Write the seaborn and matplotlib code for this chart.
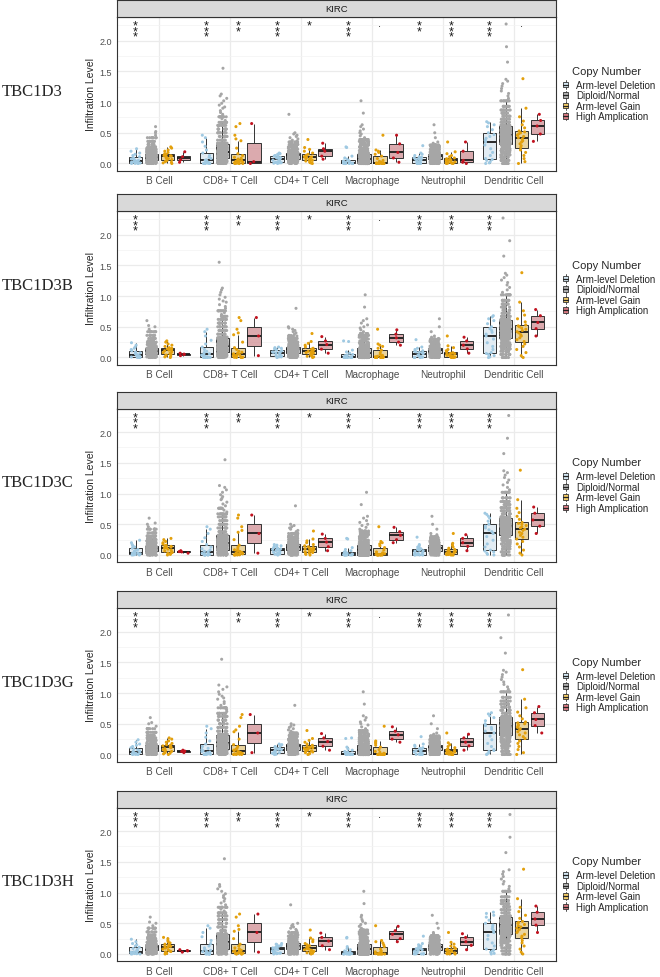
import numpy as np
import pandas as pd
import matplotlib
matplotlib.use("Agg")
import matplotlib.pyplot as plt
from matplotlib.ticker import MultipleLocator
from matplotlib.patches import Patch, Rectangle
from matplotlib.lines import Line2D
from matplotlib.legend_handler import HandlerBase
import seaborn as sns

cells = ["B Cell", "CD8+ T Cell", "CD4+ T Cell", "Macrophage", "Neutrophil", "Dendritic Cell"]
groups = ["Arm-level Deletion", "Diploid/Normal", "Arm-level Gain", "High Amplication"]
genes = ["TBC1D3", "TBC1D3B", "TBC1D3C", "TBC1D3G", "TBC1D3H"]

# infiltration level per sample, one list per cell type (same order as cells)
deletion = [
    [0.0, 0.0, 0.003, 0.005, 0.008, 0.01, 0.015, 0.02, 0.028, 0.034, 0.04, 0.05, 0.06, 0.075, 0.09, 0.11, 0.13, 0.15, 0.17, 0.2, 0.24],
    [0.0, 0.0, 0.0, 0.0, 0.0, 0.002, 0.01, 0.02, 0.03, 0.04, 0.05, 0.06, 0.08, 0.1, 0.13, 0.17, 0.22, 0.28, 0.35, 0.42, 0.46],
    [0.0, 0.005, 0.01, 0.012, 0.016, 0.02, 0.03, 0.045, 0.055, 0.07, 0.08, 0.085, 0.09, 0.1, 0.11, 0.12, 0.13, 0.14, 0.15, 0.16, 0.17],
    [0.0, 0.0, 0.0, 0.0, 0.0, 0.0, 0.002, 0.004, 0.006, 0.008, 0.01, 0.015, 0.02, 0.03, 0.04, 0.05, 0.07, 0.09, 0.12, 0.26, 0.27],
    [0.0, 0.0, 0.0, 0.002, 0.004, 0.006, 0.015, 0.025, 0.035, 0.045, 0.062, 0.07, 0.078, 0.085, 0.092, 0.1, 0.11, 0.13, 0.15, 0.17, 0.29],
    [0.0, 0.01, 0.03, 0.05, 0.065, 0.08, 0.13, 0.18, 0.24, 0.3, 0.35, 0.38, 0.41, 0.44, 0.47, 0.5, 0.55, 0.6, 0.63, 0.66, 0.68],
]

# diploid: dense core (each value stands for 10 samples) + sparse upper tail
diploid_core = [
    [0.0, 0.01, 0.018, 0.026, 0.033, 0.04, 0.046, 0.052, 0.057, 0.061, 0.065, 0.07, 0.075, 0.08, 0.085, 0.09, 0.094, 0.098, 0.102, 0.106,
     0.11, 0.114, 0.118, 0.122, 0.126, 0.13, 0.134, 0.138, 0.142, 0.146, 0.15, 0.17, 0.19, 0.21, 0.23, 0.25, 0.27, 0.31, 0.36, 0.42],
    [0.0, 0.01, 0.02, 0.03, 0.042, 0.053, 0.062, 0.07, 0.078, 0.085, 0.09, 0.1, 0.112, 0.124, 0.135, 0.146, 0.157, 0.168, 0.179, 0.19,
     0.2, 0.213, 0.226, 0.24, 0.254, 0.268, 0.282, 0.296, 0.31, 0.32, 0.33, 0.38, 0.44, 0.5, 0.56, 0.62, 0.67, 0.76],
    [0.0, 0.012, 0.024, 0.034, 0.043, 0.052, 0.06, 0.066, 0.071, 0.076, 0.08, 0.087, 0.094, 0.1, 0.106, 0.112, 0.118, 0.124, 0.13, 0.135,
     0.14, 0.144, 0.148, 0.152, 0.156, 0.16, 0.164, 0.168, 0.171, 0.173, 0.175, 0.19, 0.21, 0.23, 0.25, 0.27, 0.29, 0.31, 0.35],
    [0.0, 0.0, 0.0, 0.0, 0.0, 0.0, 0.0, 0.0, 0.0, 0.0, 0.004, 0.01, 0.018, 0.026, 0.034, 0.042, 0.05, 0.058, 0.066, 0.073,
     0.08, 0.088, 0.096, 0.104, 0.112, 0.12, 0.128, 0.136, 0.145, 0.153, 0.162, 0.18, 0.21, 0.24, 0.27, 0.3, 0.33, 0.36, 0.39],
    [0.0, 0.008, 0.016, 0.024, 0.032, 0.04, 0.047, 0.053, 0.058, 0.062, 0.066, 0.072, 0.078, 0.084, 0.09, 0.096, 0.101, 0.106, 0.111, 0.116,
     0.12, 0.124, 0.128, 0.132, 0.136, 0.14, 0.144, 0.148, 0.152, 0.155, 0.158, 0.17, 0.185, 0.2, 0.215, 0.23, 0.245, 0.26, 0.28, 0.3],
    [0.0, 0.05, 0.1, 0.14, 0.18, 0.21, 0.24, 0.27, 0.3, 0.32, 0.34, 0.355, 0.37, 0.385, 0.4, 0.415, 0.43, 0.445, 0.46, 0.47,
     0.48, 0.495, 0.51, 0.525, 0.54, 0.555, 0.57, 0.585, 0.6, 0.61, 0.62, 0.67, 0.72, 0.77, 0.82, 0.87, 0.93, 1.02],
]
diploid_tail = [
    [0.46, 0.5, 0.52, 0.6],
    [0.7, 0.73, 0.8, 0.83, 0.86, 0.9, 0.92, 0.95, 0.98, 1.02, 1.06, 1.1, 1.13, 1.55],
    [0.33, 0.36, 0.38, 0.4, 0.42, 0.44, 0.46, 0.48, 0.5, 0.8],
    [0.42, 0.45, 0.48, 0.5, 0.53, 0.56, 0.6, 0.63, 0.82, 1.02],
    [0.31, 0.33, 0.35, 0.42, 0.5, 0.63],
    [1.06, 1.1, 1.14, 1.18, 1.22, 1.26, 1.3, 1.34, 1.37, 1.65, 1.9, 2.27],
]

gain = [
    [0.0, 0.01, 0.02, 0.03, 0.04, 0.05, 0.065, 0.08, 0.095, 0.11, 0.12, 0.125, 0.13, 0.14, 0.15, 0.16, 0.18, 0.2, 0.22, 0.25, 0.27],
    [0.0, 0.0, 0.0, 0.003, 0.006, 0.009, 0.012, 0.018, 0.024, 0.03, 0.036, 0.043, 0.05, 0.06, 0.072, 0.085, 0.1, 0.13, 0.16, 0.25, 0.37, 0.4, 0.46, 0.6, 0.65],
    [0.0, 0.01, 0.02, 0.03, 0.04, 0.05, 0.06, 0.07, 0.08, 0.09, 0.1, 0.105, 0.11, 0.12, 0.135, 0.15, 0.17, 0.2, 0.23, 0.26, 0.39],
    [0.0, 0.0, 0.0, 0.0, 0.0, 0.0, 0.002, 0.004, 0.006, 0.008, 0.01, 0.02, 0.035, 0.05, 0.08, 0.12, 0.15, 0.18, 0.2, 0.22, 0.46],
    [0.0, 0.0, 0.003, 0.006, 0.008, 0.01, 0.018, 0.026, 0.034, 0.042, 0.05, 0.056, 0.062, 0.068, 0.078, 0.09, 0.11, 0.13, 0.16, 0.19, 0.35],
    [0.0, 0.03, 0.08, 0.13, 0.18, 0.22, 0.26, 0.29, 0.32, 0.35, 0.37, 0.4, 0.42, 0.44, 0.46, 0.48, 0.5, 0.515, 0.53, 0.58, 0.63, 0.69, 0.76, 0.9, 1.38],
]

# high amplification differs between TBC1D3 and the other paralogs
amp_tbc1d3 = [
    [0.02, 0.06, 0.11, 0.19],
    [0.0, 0.03, 0.65],
    [0.07, 0.12, 0.2, 0.24, 0.33],
    [0.02, 0.09, 0.18, 0.32, 0.46],
    [0.0, 0.02, 0.05, 0.2, 0.35],
    [0.36, 0.48, 0.61, 0.7, 0.8],
]
amp_other = [
    [0.03, 0.05, 0.055, 0.07],
    [0.03, 0.35, 0.65],
    [0.07, 0.135, 0.21, 0.27, 0.34],
    [0.2, 0.25, 0.32, 0.38, 0.45],
    [0.07, 0.14, 0.2, 0.27, 0.33],
    [0.35, 0.47, 0.57, 0.68, 0.78],
]

# significance marks (deletion vs diploid, gain vs diploid)
sig_tbc1d3 = [("***", ""), ("***", "**"), ("***", "*"), ("***", "."), ("**", "***"), ("***", ".")]
sig_other = [("***", ""), ("***", "**"), ("***", "*"), ("***", "."), ("***", "***"), ("***", "")]

point_colors = dict(zip(groups, ["#9FC9E2", "#A6A6A6", "#E3A00C", "#C1121F"]))
box_colors = dict(zip(groups, ["#D3E6F2", "#B0B0B0", "#F1CB66", "#D97A82"]))


def panel_data(amp):
    cell_col, cn_col, val_col = [], [], []
    for i, cell in enumerate(cells):
        parts = [deletion[i], diploid_core[i] * 10 + diploid_tail[i], gain[i], amp[i]]
        for grp, vals in zip(groups, parts):
            cell_col += [cell] * len(vals)
            cn_col += [grp] * len(vals)
            val_col += list(vals)
    return pd.DataFrame({"cell": cell_col, "cn": cn_col, "value": val_col})


class BoxKey(HandlerBase):
    def create_artists(self, legend, orig, x0, y0, w, h, fontsize, trans):
        fc = orig.get_facecolor()
        whisk = Line2D([x0 + w / 2] * 2, [y0 - 0.15 * h, y0 + 1.15 * h], color="#333333", lw=0.6, transform=trans)
        box = Rectangle((x0, y0 + 0.1 * h), w, 0.8 * h, facecolor=fc, edgecolor="#333333", lw=0.6, transform=trans)
        med = Line2D([x0, x0 + w], [y0 + h / 2] * 2, color="#222222", lw=0.9, transform=trans)
        return [whisk, box, med]


sns.set_style("white")
plt.rcParams["font.family"] = ["Liberation Sans", "DejaVu Sans"]
np.random.seed(7)

W, H = 660, 978
fig = plt.figure(figsize=(W / 100, H / 100), dpi=100)

strip_tops = [1, 195, 392.5, 592, 791.5]
strip_h = 17
plot_h = 153.5
left_px, right_px = 117, 556
offsets = (np.arange(4) - 1.5) * 0.9 / 4

for gi, gene in enumerate(genes):
    top = strip_tops[gi]
    amp = amp_tbc1d3 if gi == 0 else amp_other
    sig = sig_tbc1d3 if gi == 0 else sig_other
    df = panel_data(amp)

    ax = fig.add_axes([left_px / W, 1 - (top + strip_h + plot_h) / H, (right_px - left_px) / W, plot_h / H])
    sns.stripplot(data=df, x="cell", y="value", hue="cn", order=cells, hue_order=groups,
                  dodge=True, jitter=0.24, size=2.2, linewidth=0, palette=point_colors,
                  legend=False, ax=ax)
    # spread the dodged strips to the boxplot slots (width 0.9 instead of 0.8)
    for coll in ax.collections:
        off = coll.get_offsets()
        if len(off):
            c = np.round(off[:, 0])
            off[:, 0] = c + (off[:, 0] - c) * 0.9 / 0.8
            coll.set_offsets(off)

    sns.boxplot(data=df, x="cell", y="value", hue="cn", order=cells, hue_order=groups,
                width=0.9, gap=0.15, whis=1.5, showfliers=False, palette=box_colors,
                linecolor="#333333", linewidth=0.7,
                medianprops=dict(color="#1A1A1A", linewidth=1.3),
                capprops=dict(visible=False), legend=False, ax=ax)
    for p in ax.patches:
        fc = p.get_facecolor()
        p.set_facecolor((fc[0], fc[1], fc[2], 0.7))

    # significance labels, stacked stars
    for ci, (s_del, s_gain) in enumerate(sig):
        for lab, j in ((s_del, 0), (s_gain, 2)):
            x = ci + offsets[j]
            if lab == ".":
                ax.text(x, 2.23, ".", ha="center", va="baseline", fontsize=8, color="#1A1A1A")
            elif lab:
                ax.text(x, 2.34, "\n".join(lab), ha="center", va="top", fontsize=9,
                        linespacing=0.28, color="#1A1A1A")

    ax.set_xlim(-0.6, 5.6)
    ax.set_ylim(-0.114, 2.384)
    ax.set_yticks([0, 0.5, 1.0, 1.5, 2.0])
    ax.set_yticklabels(["0.0", "0.5", "1.0", "1.5", "2.0"])
    ax.yaxis.set_minor_locator(MultipleLocator(0.25))
    ax.set_axisbelow(True)
    ax.grid(True, which="major", color="#EBEBEB", lw=0.9)
    ax.grid(True, which="minor", axis="y", color="#F3F3F3", lw=0.5)
    ax.tick_params(which="major", length=2.2, width=0.6, color="#333333", pad=1.2,
                   labelcolor="#4D4D4D")
    ax.tick_params(axis="y", labelsize=6.5)
    ax.tick_params(axis="x", labelsize=7.2)
    ax.tick_params(which="minor", length=0)
    for s in ax.spines.values():
        s.set_color("#333333")
        s.set_linewidth(0.8)
    ax.set_xlabel("")
    ax.set_ylabel("Infiltration Level", fontsize=7.5, labelpad=3)

    # facet strip
    sax = fig.add_axes([left_px / W, 1 - (top + strip_h) / H, (right_px - left_px) / W, strip_h / H])
    sax.set_facecolor("#D9D9D9")
    sax.set_xticks([])
    sax.set_yticks([])
    for s in sax.spines.values():
        s.set_color("#333333")
        s.set_linewidth(0.8)
    sax.text(0.5, 0.5, "KIRC", ha="center", va="center", fontsize=6.8, color="#1A1A1A",
             transform=sax.transAxes)

    # gene name on the left
    fig.text(2 / W, 1 - (top + 91) / H, gene, ha="left", va="center",
             fontsize=12, family="Liberation Serif")

    # legend
    fig.text(572 / W, 1 - (top + 71) / H, "Copy Number", ha="left", va="center", fontsize=8)
    handles = [Patch(facecolor=box_colors[g]) for g in groups]
    ax.legend(handles, groups, loc="upper left", bbox_to_anchor=(563 / W, 1 - (top + 80) / H),
              bbox_transform=fig.transFigure, frameon=False, fontsize=7,
              handlelength=0.55, handleheight=0.7, handletextpad=0.8, labelspacing=0.05,
              borderpad=0, borderaxespad=0, handler_map={Patch: BoxKey()})

fig.savefig("out.png", dpi=100)
